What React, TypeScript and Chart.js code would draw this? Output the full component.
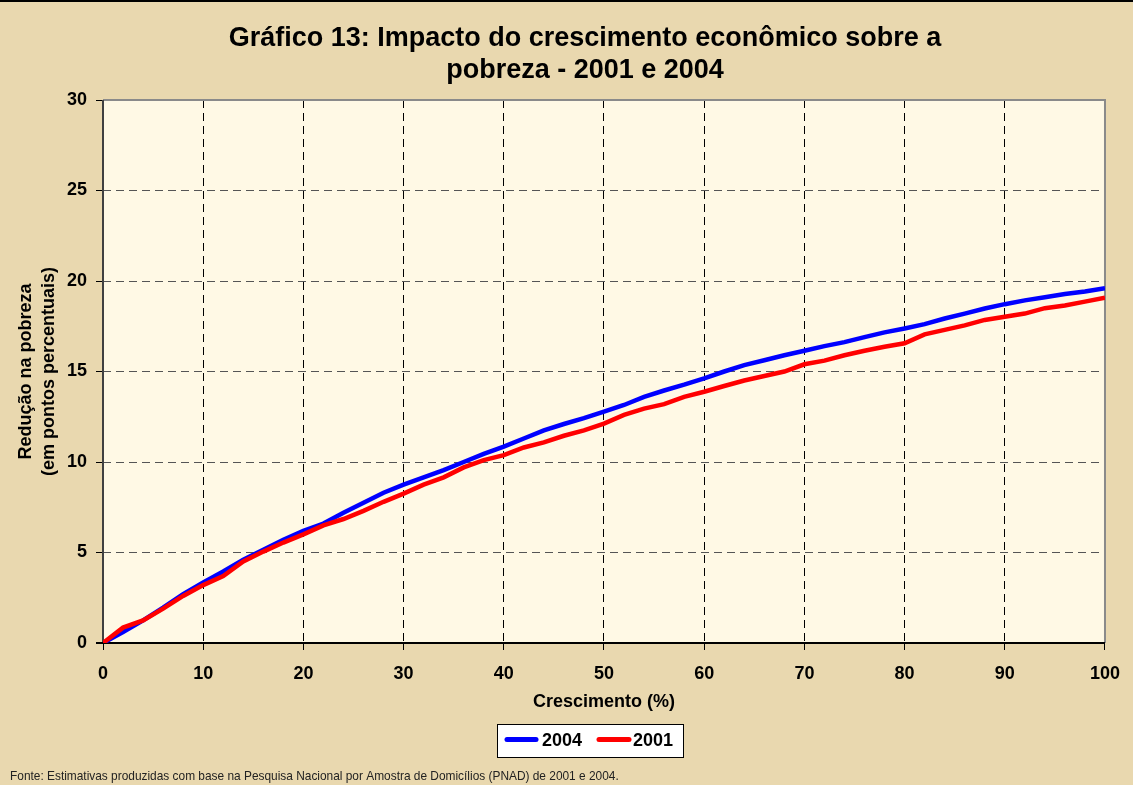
import React, { useEffect, useRef } from "react";
import { Chart, registerables } from "chart.js";

Chart.register(...registerables);

// ---- data ----
const growth = [
  0, 2, 4, 6, 8, 10, 12, 14, 16, 18, 20, 22, 24, 26, 28, 30, 32, 34, 36, 38, 40,
  42, 44, 46, 48, 50, 52, 54, 56, 58, 60, 62, 64, 66, 68, 70, 72, 74, 76, 78, 80,
  82, 84, 86, 88, 90, 92, 94, 96, 98, 100,
];
const reduction2004 = [
  0, 0.6, 1.25, 1.95, 2.7, 3.35, 3.95, 4.6, 5.15, 5.7, 6.2, 6.6, 7.2, 7.75, 8.3,
  8.75, 9.15, 9.55, 10.0, 10.45, 10.85, 11.3, 11.75, 12.1, 12.42, 12.78, 13.15,
  13.6, 13.95, 14.27, 14.62, 15.0, 15.35, 15.62, 15.9, 16.15, 16.4, 16.62, 16.9,
  17.16, 17.38, 17.62, 17.93, 18.2, 18.48, 18.72, 18.93, 19.1, 19.28, 19.42, 19.6,
];
const reduction2001 = [
  0, 0.85, 1.25, 1.9, 2.6, 3.2, 3.7, 4.5, 5.05, 5.55, 6.0, 6.5, 6.85, 7.3, 7.8,
  8.25, 8.75, 9.15, 9.7, 10.1, 10.38, 10.8, 11.08, 11.45, 11.75, 12.12, 12.6,
  12.95, 13.2, 13.6, 13.88, 14.2, 14.5, 14.75, 15.0, 15.4, 15.6, 15.9, 16.15,
  16.37, 16.56, 17.05, 17.3, 17.55, 17.85, 18.03, 18.2, 18.5, 18.65, 18.86, 19.08,
];
const seriesLabels = ["2004", "2001"];
const titleLines = [
  "Gráfico 13: Impacto do crescimento econômico sobre a",
  "pobreza - 2001 e 2004",
];
const yTitle = ["Redução na pobreza", "(em pontos percentuais)"];
const xTitle = "Crescimento (%)";
const sourceNote =
  "Fonte: Estimativas produzidas com base na Pesquisa Nacional por Amostra de Domicílios (PNAD) de 2001 e 2004.";

const FONT = '"Liberation Sans", Arial, Helvetica, sans-serif';
const BLUE = "#0000FF";
const RED = "#FF0000";

const decor = {
  id: "decor",
  beforeDraw(chart: any) {
    const { ctx, chartArea: a, width, height } = chart;
    ctx.save();
    ctx.fillStyle = "#E9D8AF";
    ctx.fillRect(0, 0, width, height);
    ctx.fillStyle = "#000";
    ctx.fillRect(0, 0, width, 2);
    ctx.fillStyle = "#FFF9E5";
    ctx.fillRect(a.left, a.top, a.right - a.left, a.bottom - a.top);
    ctx.restore();
  },
  beforeDatasetsDraw(chart: any) {
    const { ctx, chartArea: a } = chart;
    ctx.save();
    ctx.setLineDash([]);
    ctx.lineWidth = 2;
    ctx.strokeStyle = "#8a8a8a";
    ctx.beginPath();
    ctx.moveTo(a.left, a.top);
    ctx.lineTo(a.right, a.top);
    ctx.lineTo(a.right, a.bottom);
    ctx.stroke();
    ctx.strokeStyle = "#404040";
    ctx.beginPath();
    ctx.moveTo(a.left, a.top);
    ctx.lineTo(a.left, a.bottom);
    ctx.stroke();
    ctx.strokeStyle = "#000";
    ctx.beginPath();
    ctx.moveTo(a.left - 7, a.bottom);
    ctx.lineTo(a.right, a.bottom);
    ctx.stroke();
    ctx.restore();
  },
  afterDraw(chart: any) {
    const { ctx } = chart;
    ctx.save();
    // title
    ctx.fillStyle = "#000";
    ctx.font = `bold 27px ${FONT}`;
    ctx.textAlign = "center";
    ctx.textBaseline = "middle";
    ctx.fillText(titleLines[0], 585, 39);
    ctx.fillText(titleLines[1], 585, 71);

    // legend
    ctx.fillStyle = "#fff";
    ctx.fillRect(497, 724, 186, 33);
    ctx.strokeStyle = "#000";
    ctx.lineWidth = 1;
    ctx.strokeRect(497.5, 724.5, 186, 33);
    ctx.lineCap = "round";
    ctx.lineWidth = 5;
    ctx.strokeStyle = BLUE;
    ctx.beginPath();
    ctx.moveTo(507, 739.5);
    ctx.lineTo(536, 739.5);
    ctx.stroke();
    ctx.strokeStyle = RED;
    ctx.beginPath();
    ctx.moveTo(599, 739.5);
    ctx.lineTo(629, 739.5);
    ctx.stroke();
    ctx.fillStyle = "#000";
    ctx.font = `bold 18px ${FONT}`;
    ctx.textAlign = "left";
    ctx.textBaseline = "middle";
    ctx.fillText(seriesLabels[0], 542, 741);
    ctx.fillText(seriesLabels[1], 633, 741);

    // source
    ctx.font = `11.9px ${FONT}`;
    ctx.fillStyle = "#222";
    ctx.fillText(sourceNote, 10, 777);
    ctx.restore();
  },
};

export default function App() {
  const ref = useRef<HTMLCanvasElement>(null);
  useEffect(() => {
    if (!ref.current) return;
    const chart = new Chart(ref.current, {
      type: "line",
      data: {
        datasets: [
          {
            label: seriesLabels[0],
            data: growth.map((g, i) => ({ x: g, y: reduction2004[i] })),
            borderColor: BLUE,
            backgroundColor: BLUE,
            borderWidth: 4.5,
            pointRadius: 0,
            tension: 0,
            order: 1,
          },
          {
            label: seriesLabels[1],
            data: growth.map((g, i) => ({ x: g, y: reduction2001[i] })),
            borderColor: RED,
            backgroundColor: RED,
            borderWidth: 4.5,
            pointRadius: 0,
            tension: 0,
            order: 0,
          },
        ],
      },
      options: {
        animation: false,
        responsive: false,
        maintainAspectRatio: false,
        layout: { padding: { top: 100, bottom: 72, left: 0, right: 28 } },
        plugins: {
          legend: { display: false },
          title: { display: false },
          tooltip: { enabled: false },
        },
        scales: {
          x: {
            type: "linear",
            min: 0,
            max: 100,
            ticks: {
              stepSize: 10,
              color: "#000",
              font: { family: FONT, size: 18, weight: "bold" },
              padding: 13,
              maxRotation: 0,
            },
            grid: {
              color: (c: any) =>
                c.tick && (c.tick.value === 0 || c.tick.value === 100)
                  ? "rgba(0,0,0,0)"
                  : "#000",
              lineWidth: 1,
              tickColor: "#000",
              tickLength: 7,
              tickWidth: 1,
            },
            border: { display: false, dash: [8, 5] },
            title: {
              display: true,
              text: xTitle,
              color: "#000",
              font: { family: FONT, size: 18, weight: "bold" },
              padding: { top: 0, bottom: 0 },
            },
            afterFit: (s: any) => {
              s.height = 70;
            },
          },
          y: {
            type: "linear",
            min: 0,
            max: 30,
            ticks: {
              stepSize: 5,
              color: "#000",
              font: { family: FONT, size: 18, weight: "bold" },
              padding: 9,
            },
            grid: {
              color: (c: any) =>
                c.tick && (c.tick.value === 0 || c.tick.value === 30)
                  ? "rgba(0,0,0,0)"
                  : "#555",
              lineWidth: 1,
              tickColor: "#000",
              tickLength: 7,
              tickWidth: 1,
            },
            border: { display: false, dash: [8, 5] },
            title: {
              display: true,
              text: yTitle,
              color: "#000",
              font: { family: FONT, size: 18, weight: "bold", lineHeight: 1.3 },
              padding: { top: 14, bottom: 0 },
            },
            afterFit: (s: any) => {
              s.width = 103;
            },
          },
        },
      },
      plugins: [decor],
    });
    return () => chart.destroy();
  }, []);
  return (
    <div style={{ position: "absolute", left: 0, top: 0, width: 1133, height: 785 }}>
      <canvas ref={ref} width={1133} height={785} style={{ display: "block" }} />
    </div>
  );
}
